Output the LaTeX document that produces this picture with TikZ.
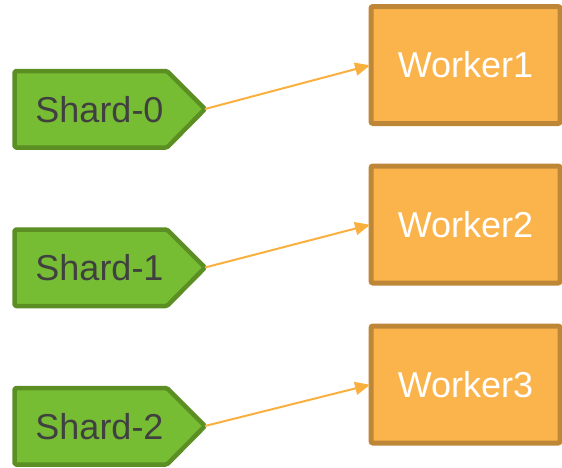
\documentclass[tikz,border=0pt]{standalone}
\usepackage{fontspec}
\setmainfont{Liberation Sans}
\usetikzlibrary{arrows.meta}
\definecolor{shardfill}{HTML}{77BD33}
\definecolor{shardline}{HTML}{5B8E23}
\definecolor{workfill}{HTML}{FBB44C}
\definecolor{workline}{HTML}{BE8737}
\definecolor{arrowcol}{HTML}{F9B03E}
\definecolor{shardtxt}{HTML}{404040}
\tikzset{
  shardshape/.style={fill=shardfill,draw=shardline,line width=4.5pt,rounded corners=1.5pt,line join=round},
  shardtext/.style={text=shardtxt,font=\fontsize{36}{40}\selectfont,inner sep=0pt},
  workerbox/.style={rectangle,fill=workfill,draw=workline,line width=5pt,rounded corners=2pt,
    minimum width=189pt,minimum height=117pt,outer sep=0pt,inner sep=0pt,
    text=white,font=\fontsize{36}{40}\selectfont},
  link/.style={draw=arrowcol,line width=2pt,-{Triangle[length=15pt,width=13pt]},shorten >=1pt}
}
\begin{document}
\begin{tikzpicture}[x=1pt,y=-1pt]
\useasboundingbox (0,0) rectangle (562,467);
% workers
\node[workerbox] (w1) at (465.5,65) {Worker1};
\node[workerbox] (w2) at (465.5,224.5) {Worker2};
\node[workerbox] (w3) at (465.5,384.5) {Worker3};
% shards
\foreach \i/\t in {0/71,1/229.5,2/388}{
  \path[shardshape] (14.5,\t) -- (167,\t) -- (205,\t+38) -- (167,\t+76.5) -- (14.5,\t+76.5) -- cycle;
  \coordinate (tip\i) at (205,\t+38);
  \node[shardtext] (s\i) at (99.5,\t+38.5) {Shard-\i};
}
% connectors
\draw[link] (tip0) -- (w1.west);
\draw[link] (tip1) -- (w2.west);
\draw[link] (tip2) -- (w3.west);
\end{tikzpicture}
\end{document}
